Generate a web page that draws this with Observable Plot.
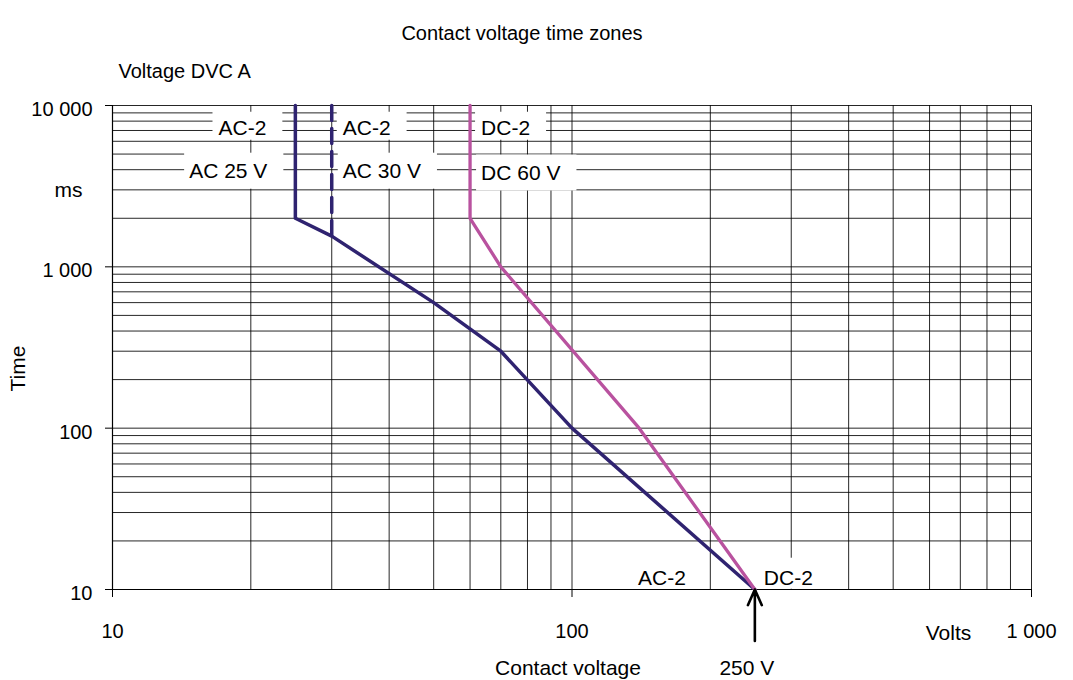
<!DOCTYPE html>
<html>
<head>
<meta charset="utf-8">
<script src="https://cdn.jsdelivr.net/npm/d3@7"></script>
<script src="https://cdn.jsdelivr.net/npm/@observablehq/plot@0.6"></script>
<style>
  html, body { margin: 0; padding: 0; background: #fff; }
  svg { display: block; }
</style>
</head>
<body>
<script>
// ---- data ----
const chartTitle = "Contact voltage time zones";
const subTitle = "Voltage DVC A";
const xTitle = "Contact voltage";
const yTitle = "Time";
const xUnit = "Volts";
const yUnit = "ms";

const xTicks = [10, 100, 1000];
const xTickLabels = ["10", "100", "1 000"];
const yTicks = [10, 100, 1000, 10000];
const yTickLabels = ["10", "100", "1 000", "10 000"];

const xGrid = [20, 30, 40, 50, 60, 70, 80, 90, 100, 200, 300, 400, 500, 600, 700, 800, 900, 1000];
const yGrid = [20, 30, 40, 50, 60, 70, 80, 90, 100, 200, 300, 400, 500, 600, 700, 800, 900,
               1000, 2000, 3000, 4000, 5000, 6000, 7000, 8000, 9000, 10000];

// AC 25 V curve (solid)
const ac25Volts = [25, 25, 30, 50, 70, 100, 250];
const ac25Ms    = [10000, 2000, 1550, 600, 300, 100, 10];
// AC 30 V limit (dashed)
const ac30Volts = [30, 30];
const ac30Ms    = [10000, 1550];
// DC 60 V curve
const dc60Volts = [60, 60, 70, 140, 250];
const dc60Ms    = [10000, 2000, 1000, 100, 10];

// curve labels
const labelTopText  = ["AC-2", "AC-2", "DC-2"];
const labelTopVolts = [25, 30, 60];
const labelTopMs    = [7200, 7200, 7200];
const labelMidText  = ["AC 25 V", "AC 30 V", "DC 60 V"];
const labelMidVolts = [25, 30, 60];
const labelMidMs    = [3900, 3900, 3800];
const labelBotText  = ["AC-2", "DC-2"];
const labelBotVolts = [250, 250];
const labelBotMs    = [11.7, 11.7];

const arrowVolts = [250];
const arrowFromMs = [4.8];
const arrowToMs = [10];

// ---- build ----
const navy = "#2f2370";
const pink = "#b9529f";
const font = "'Liberation Sans', Arial, sans-serif";

const toRows = (xs, ys) => xs.map((x, i) => ({x, y: ys[i]}));
const ac25 = toRows(ac25Volts, ac25Ms);
const ac30 = toRows(ac30Volts, ac30Ms);
const dc60 = toRows(dc60Volts, dc60Ms);
const lblRows = (t, xs, ys) => t.map((s, i) => ({text: s, x: xs[i], y: ys[i], i}));
const topL = lblRows(labelTopText, labelTopVolts, labelTopMs);
const midL = lblRows(labelMidText, labelMidVolts, labelMidMs);
const botL = lblRows(labelBotText, labelBotVolts, labelBotMs);
const xLab = new Map(xTicks.map((d, i) => [d, xTickLabels[i]]));
const yLab = new Map(yTicks.map((d, i) => [d, yTickLabels[i]]));

const gridStyle = {stroke: "#000", strokeWidth: 1, strokeOpacity: 0.85};
const LBL = 21;

// left-column labels end before the curve, others start after it
const colLabel = (rows, cls, dxs) => [
  Plot.text(rows.filter(d => d.i === 0), {x: "x", y: "y", text: "text", fontSize: LBL, className: cls, textAnchor: "end", dx: dxs[0]}),
  Plot.text(rows.filter(d => d.i > 0), {x: "x", y: "y", text: "text", fontSize: LBL, className: cls, textAnchor: "start", dx: dxs[1]})
];
const note = (txt, anchor, dx, dy, extra = {}) =>
  Plot.text([txt], {frameAnchor: anchor, text: d => d, dx, dy, textAnchor: "middle", lineAnchor: "middle", fontSize: 21, ...extra});

const svg = Plot.plot({
  width: 1073,
  height: 680,
  marginLeft: 112,
  marginRight: 42,
  marginTop: 105,
  marginBottom: 91,
  style: {fontFamily: font, fontSize: "20px", color: "#000", background: "#fff", overflow: "visible"},
  x: {type: "log", domain: [10, 1000], axis: null},
  y: {type: "log", domain: [10, 10000], axis: null},
  marks: [
    Plot.ruleX(xGrid, gridStyle),
    Plot.ruleY(yGrid, gridStyle),
    Plot.ruleX([10], {stroke: "#000", strokeWidth: 1.2}),
    Plot.ruleY([10], {stroke: "#000", strokeWidth: 1.2}),
    Plot.axisX(xTicks, {tickSize: 8, tickPadding: 26, tickFormat: d => xLab.get(d), label: null, fontSize: 20, stroke: "#000"}),
    Plot.axisY(yTicks, {tickSize: 7, tickFormat: () => "", label: null, stroke: "#000"}),
    Plot.axisY(yTicks, {tickSize: 0, tickPadding: 20, dy: 4, tickFormat: d => yLab.get(d), label: null, fontSize: 20}),
    // curves
    Plot.line(ac30, {x: "x", y: "y", stroke: navy, strokeWidth: 3.5, strokeDasharray: "15,8"}),
    Plot.line(ac25, {x: "x", y: "y", stroke: navy, strokeWidth: 3.5}),
    Plot.line(dc60, {x: "x", y: "y", stroke: pink, strokeWidth: 3.3}),
    // arrow to 250 V
    Plot.arrow(arrowVolts, {x1: d => d, x2: d => d, y1: (d, i) => arrowFromMs[i], y2: (d, i) => arrowToMs[i],
      stroke: "#000", strokeWidth: 2.6, headLength: 20, headAngle: 48}),
    Plot.text(arrowVolts, {x: d => d, text: d => `${d} V`, frameAnchor: "bottom", lineAnchor: "middle", dx: -8, dy: 79, fontSize: 21}),
    // titles
    note(chartTitle, "top", -50, -72, {fontSize: 20}),
    note(subTitle, "top-left", 6, -34, {fontSize: 20, textAnchor: "start"}),
    note(yUnit, "top-left", -44, 85, {fontSize: 21}),
    note(yTitle, "left", -94, 21, {rotate: -90}),
    note(xTitle, "bottom", -4, 79),
    note(xUnit, "bottom-right", -83, 44)
  ].concat(
    // curve labels (boxed)
    colLabel(topL, "lbl-top", [-29, 11]),
    colLabel(midL, "lbl-mid", [-28, 11]),
    [
      Plot.text(botL.filter(d => d.i === 0), {x: "x", y: "y", text: "text", fontSize: LBL, className: "lbl-bot", textAnchor: "end", dx: -69}),
      Plot.text(botL.filter(d => d.i > 0), {x: "x", y: "y", text: "text", fontSize: LBL, className: "lbl-bot", textAnchor: "start", dx: 9})
    ]
  )
});

document.body.appendChild(svg);

// white boxes behind the curve labels
const pads = {
  "lbl-top": {l: 6, r: 16, t: 16, b: 12},
  "lbl-mid": {l: 5, r: 16, t: 18, b: 18},
  "lbl-bot": {l: 5, r: 12, t: 20, b: 11}
};
for (const [cls, p] of Object.entries(pads)) {
  svg.querySelectorAll(`g.${cls} text`).forEach(t => {
    const bb = t.getBBox();
    const cy = bb.y + bb.height / 2;
    const r = document.createElementNS("http://www.w3.org/2000/svg", "rect");
    r.setAttribute("x", bb.x - p.l);
    r.setAttribute("y", cy - p.t);
    r.setAttribute("width", bb.width + p.l + p.r);
    r.setAttribute("height", p.t + p.b);
    r.setAttribute("fill", "#fff");
    r.setAttribute("stroke", "none");
    const tr = t.getAttribute("transform");
    if (tr) r.setAttribute("transform", tr);
    t.parentNode.insertBefore(r, t);
  });
}
</script>
</body>
</html>
